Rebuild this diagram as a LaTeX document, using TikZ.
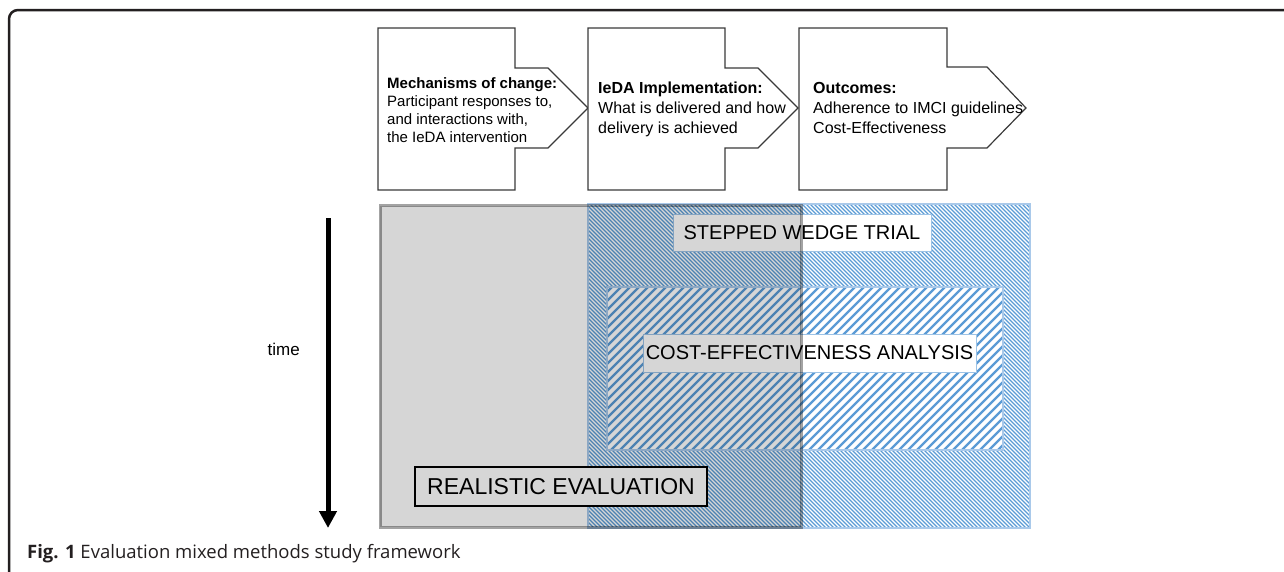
\documentclass[tikz,border=0pt]{standalone}
\usepackage{fontspec}
\setmainfont{Liberation Sans}
\newfontfamily\captionfont{Open Sans}
\usetikzlibrary{arrows.meta}
\definecolor{framegray}{HTML}{231F20}
\definecolor{hatchblue}{HTML}{5B9BD5}
\definecolor{paleblue}{HTML}{A9C9EA}
\definecolor{edgeblue}{HTML}{9DC3E6}
\definecolor{boxline}{HTML}{3A3A3A}
\definecolor{regray}{HTML}{D6D6D6}

\tikzset{
  stagebox/.style={draw=boxline, line width=1.2pt, fill=white, line join=miter},
  stagetext/.style={anchor=base west, inner sep=0pt, align=left},
  labelbox/.style={draw=edgeblue, line width=1pt, fill=white, inner sep=0pt,
                   font=\fontsize{20}{24}\selectfont},
  finehatch/.style={hatchblue, line width=1.3pt},
  widehatch/.style={hatchblue, line width=2.2pt},
}

\begin{document}
\begin{tikzpicture}[x=1pt,y=-1pt]
\useasboundingbox (0,0) rectangle (1284,571);

% ---- stepped wedge trial: fine back-slash hatching ----
\coordinate (swtA) at (588,204);
\coordinate (swtB) at (1030,528);
\begin{scope}
  \clip (swtA) rectangle (swtB);
  \foreach \k in {0,...,193}
    \draw[finehatch] (262+4*\k,204) -- ++(324,324);
\end{scope}
\draw[paleblue, line width=1.5pt] (swtA) rectangle (swtB);

% ---- cost-effectiveness analysis: wide slash hatching on white ----
\coordinate (ceaA) at (607,287);
\coordinate (ceaB) at (1003,450);
\fill[white] (ceaA) rectangle (ceaB);
\begin{scope}
  \clip (ceaA) rectangle (ceaB);
  \foreach \k in {0,...,63}
    \draw[widehatch] (440+9*\k,450) -- ++(163,-163);
\end{scope}
\draw[paleblue, line width=1.2pt] (ceaA) rectangle (ceaB);

% ---- labels of the two hatched areas ----
\node[labelbox, minimum width=258pt, minimum height=37pt] (swt) at (802,232.5) {STEPPED WEDGE TRIAL};
\node[labelbox, minimum width=333pt, minimum height=38pt] (cea) at (809.5,353) {COST-EFFECTIVENESS ANALYSIS};

% ---- realistic evaluation: translucent grey layer ----
\coordinate (reA) at (380,205.5);
\coordinate (reB) at (801,527);
\draw[fill=black, fill opacity=0.16, draw=black, draw opacity=0.36, line width=3pt] (reA) rectangle (reB);
\node[draw=black, line width=1.2pt, fill=regray, inner sep=0pt,
      minimum width=292pt, minimum height=39pt, font=\fontsize{23}{27}\selectfont]
      (re) at (561,486.5) {REALISTIC EVALUATION};

% ---- the three stages ----
\draw[stagebox] (378,28) -- (515,28) -- (515,68) -- (548,68) -- (588,108)
  -- (548,148) -- (515,148) -- (515,190) -- (378,190) -- cycle;
\draw[stagebox] (588,28) -- (725,28) -- (725,68) -- (758,68) -- (798,108)
  -- (758,148) -- (725,148) -- (725,190) -- (588,190) -- cycle;
\draw[stagebox] (799,28) -- (947,28) -- (947,67) -- (987,67) -- (1026,108)
  -- (987,148) -- (947,148) -- (947,190) -- (799,190) -- cycle;

\node[stagetext, font=\fontsize{15}{18}\selectfont] (mech) at (387,88)
  {\begin{tabular}[t]{@{}l@{}}\textbf{Mechanisms of change:}\\ Participant responses to,\\ and interactions with,\\ the IeDA intervention\end{tabular}};
\node[stagetext, font=\fontsize{16}{20}\selectfont] (impl) at (598,93)
  {\begin{tabular}[t]{@{}l@{}}\textbf{IeDA Implementation:}\\ What is delivered and how\\ delivery is achieved\end{tabular}};
\node[stagetext, font=\fontsize{16}{20}\selectfont] (outc) at (813,93)
  {\begin{tabular}[t]{@{}l@{}}\textbf{Outcomes:}\\ Adherence to IMCI guidelines\\ Cost-Effectiveness\end{tabular}};

% ---- time axis ----
\coordinate (tTop) at (328,218);
\coordinate (tEnd) at (328,528);
\draw[line width=5pt, -{Triangle[width=17pt,length=17pt]}] (tTop) -- (tEnd);
\node[anchor=east, inner sep=0pt, font=\fontsize{17}{20}\selectfont] (timelbl) at (300,349) {time};

% ---- caption and frame ----
\node[anchor=base west, inner sep=0pt, text=framegray, font=\captionfont\fontsize{18.5}{22}\selectfont]
  (cap) at (27,558) {\textbf{Fig. 1} Evaluation mixed methods study framework};
\draw[framegray, line width=2.5pt, rounded corners=9pt] (9,580) -- (9,10) -- (1290,10);
\end{tikzpicture}
\end{document}
